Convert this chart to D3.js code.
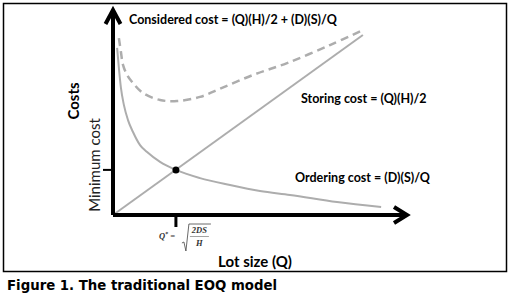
<!DOCTYPE html>
<html>
<head>
<meta charset="utf-8">
<script src="https://cdn.jsdelivr.net/npm/d3@7"></script>
<style>
  body { margin: 0; background: #fff; }
  svg { display: block; }
</style>
</head>
<body>
<svg id="chart"></svg>
<script>
// values (conceptual units, 0-100 on both axes)
const storingQ = [0, 85.0];
const storingCost = [0, 87.8];

const orderingQ = [1.4, 2.0, 2.7, 3.7, 5.1, 6.8, 9.2, 11.6, 16.0, 21.4, 29.6, 39.8, 50.0, 60.2, 76.2, 91.2];
const orderingCost = [81.5, 71.7, 62.0, 53.7, 46.3, 40.5, 34.1, 30.7, 25.9, 22.0, 18.0, 14.6, 11.7, 9.8, 6.3, 3.9];

const totalQ = [2.0, 2.7, 3.4, 4.8, 6.5, 10.2, 16.0, 21.8, 29.6, 37.1, 47.6, 59.2, 73.8, 85.0];
const totalCost = [86.3, 79.5, 73.2, 68.3, 64.9, 59.5, 56.1, 55.6, 57.6, 62.0, 68.3, 74.1, 82.9, 90.2];

const optimalQ = 21.4;
const minimumCost = 22.0;

const labels = {
  total: "Considered cost = (Q)(H)/2 + (D)(S)/Q",
  storing: "Storing cost = (Q)(H)/2",
  ordering: "Ordering cost = (D)(S)/Q",
  yTitle: "Costs",
  yTick: "Minimum cost",
  xTitle: "Lot size (Q)",
  caption: "Figure 1. The traditional EOQ model"
};

const width = 510, height = 295;
const svg = d3.select("#chart").attr("width", width).attr("height", height);

const x = d3.scaleLinear().domain([0, 100]).range([113, 407]);
const y = d3.scaleLinear().domain([0, 100]).range([215, 10]);

const gray = "#adadad";
const font = "Lato, 'Open Sans', sans-serif";

// frame
svg.append("rect")
  .attr("x", 3.5).attr("y", 3.5)
  .attr("width", 503).attr("height", 268)
  .attr("fill", "none").attr("stroke", "#000").attr("stroke-width", 1.5);

const zip = (a, b) => a.map((v, i) => [v, b[i]]);

const line = d3.line().x(d => x(d[0])).y(d => y(d[1]));

// storing cost
svg.append("path")
  .datum(zip(storingQ, storingCost))
  .attr("d", line)
  .attr("fill", "none").attr("stroke", gray).attr("stroke-width", 2);

// ordering cost
svg.append("path")
  .datum(zip(orderingQ, orderingCost))
  .attr("d", line.curve(d3.curveMonotoneX))
  .attr("fill", "none").attr("stroke", gray).attr("stroke-width", 2);

// total (considered) cost
svg.append("path")
  .datum(zip(totalQ, totalCost))
  .attr("d", line.curve(d3.curveCatmullRom))
  .attr("fill", "none").attr("stroke", gray).attr("stroke-width", 2.5)
  .attr("stroke-dasharray", "8,5");

// axes with open arrowheads
const x0 = x(0), y0 = y(0), xEnd = x(100), yEnd = y(100);
svg.append("path")
  .attr("d", `M${x0},${y0} H${xEnd - 2} M${x0},${y0} V${yEnd + 2}`)
  .attr("stroke", "#000").attr("stroke-width", 4).attr("fill", "none");
svg.append("path")
  .attr("d", `M${xEnd - 13},${y0 - 8} L${xEnd},${y0} L${xEnd - 13},${y0 + 8}`)
  .attr("stroke", "#000").attr("stroke-width", 4).attr("fill", "none")
  .attr("stroke-linejoin", "miter");
svg.append("path")
  .attr("d", `M${x0 - 7.5},${yEnd + 14} L${x0},${yEnd} L${x0 + 7.5},${yEnd + 14}`)
  .attr("stroke", "#000").attr("stroke-width", 4).attr("fill", "none")
  .attr("stroke-linejoin", "miter");

// ticks at the optimum
svg.append("line")
  .attr("x1", x0 - 10).attr("x2", x0)
  .attr("y1", y(minimumCost)).attr("y2", y(minimumCost))
  .attr("stroke", "#000").attr("stroke-width", 2);
svg.append("line")
  .attr("x1", x(optimalQ)).attr("x2", x(optimalQ))
  .attr("y1", y0).attr("y2", y0 + 12)
  .attr("stroke", "#000").attr("stroke-width", 3);

// optimum point
svg.append("circle")
  .attr("cx", x(optimalQ)).attr("cy", y(minimumCost)).attr("r", 3.5)
  .attr("fill", "#000");

// curve labels
svg.append("text")
  .attr("x", 129).attr("y", 24)
  .style("font-family", font).style("font-weight", 700).style("font-size", "12.5px")
  .text(labels.total);
svg.append("text")
  .attr("x", 301).attr("y", 103)
  .style("font-family", font).style("font-weight", 700).style("font-size", "12.5px")
  .text(labels.storing);
svg.append("text")
  .attr("x", 295).attr("y", 182)
  .style("font-family", font).style("font-weight", 700).style("font-size", "12.5px")
  .text(labels.ordering);

// y labels
svg.append("text")
  .attr("transform", "translate(79,101) rotate(-90)")
  .attr("text-anchor", "middle")
  .style("font-family", font).style("font-weight", 700).style("font-size", "15px")
  .text(labels.yTitle);
svg.append("text")
  .attr("transform", "translate(100,165) rotate(-90)")
  .attr("text-anchor", "middle")
  .style("font-family", font).style("font-size", "15px").style("fill", "#222")
  .text(labels.yTick);

// x title
svg.append("text")
  .attr("x", 255).attr("y", 267)
  .attr("text-anchor", "middle")
  .style("font-family", font).style("font-weight", 700).style("font-size", "15px")
  .text(labels.xTitle);

// Q* = sqrt(2DS/H)
const fx = x(optimalQ);
const serif = "'Liberation Serif', 'DejaVu Serif', serif";
const q = svg.append("text")
  .attr("x", fx - 17).attr("y", 239)
  .style("font-family", serif).style("font-style", "italic").style("font-weight", 700)
  .style("font-size", "8.5px").style("fill", "#333");
q.append("tspan").text("Q");
q.append("tspan").attr("dy", -3).style("font-size", "6px").text("*");
q.append("tspan").attr("dy", 3).text(" =");
svg.append("path")
  .attr("d", `M${fx + 6},${243} L${fx + 8},${242} L${fx + 10},${251} L${fx + 13},${224} L${fx + 35},${224}`)
  .attr("fill", "none").attr("stroke", "#444").attr("stroke-width", 0.8);
svg.append("line")
  .attr("x1", fx + 14).attr("x2", fx + 33).attr("y1", 236.5).attr("y2", 236.5)
  .attr("stroke", "#666").attr("stroke-width", 0.6);
svg.append("text")
  .attr("x", fx + 23.5).attr("y", 233).attr("text-anchor", "middle")
  .style("font-family", serif).style("font-style", "italic").style("font-weight", 700)
  .style("font-size", "8.5px").style("fill", "#333")
  .text("2DS");
svg.append("text")
  .attr("x", fx + 23.5).attr("y", 246).attr("text-anchor", "middle")
  .style("font-family", serif).style("font-style", "italic").style("font-weight", 700)
  .style("font-size", "8.5px").style("fill", "#333")
  .text("H");

// caption
svg.append("text")
  .attr("x", 7).attr("y", 290)
  .style("font-family", "'DejaVu Sans', sans-serif").style("font-weight", 700)
  .style("font-size", "13.3px")
  .text(labels.caption);
</script>
</body>
</html>
